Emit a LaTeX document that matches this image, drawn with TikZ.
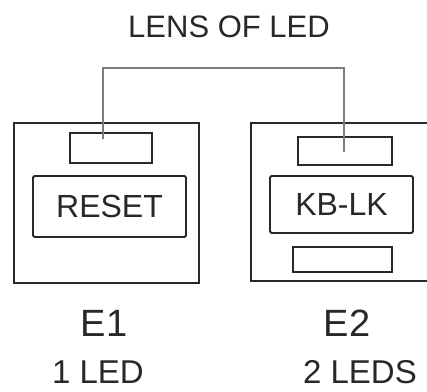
\documentclass[tikz,border=0pt]{standalone}
\usepackage{fontspec}
\setmainfont{Liberation Sans}
\usetikzlibrary{positioning}
\definecolor{PanelInk}{RGB}{40,40,40}
\definecolor{LeadGray}{RGB}{125,125,125}

\begin{document}
\begin{tikzpicture}[x=1pt,y=-1pt, every node/.style={inner sep=0pt, text=PanelInk}]
\tikzset{
  panel/.style={draw=PanelInk, line width=2pt},
  lens/.style={draw=PanelInk, line width=1.8pt},
  keycap/.style={draw=PanelInk, line width=1.8pt, rounded corners=1.5pt, font=\fontsize{32}{36}\selectfont},
  caption/.style={anchor=base, font=\fontsize{33}{38}\selectfont},
  unitname/.style={anchor=base, font=\fontsize{38}{44}\selectfont},
  lead/.style={draw=LeadGray, line width=1.6pt}
}
  \useasboundingbox (0,0) rectangle (427,391);
  \clip (0,0) rectangle (427,391);

  \node[anchor=base, font=\fontsize{31}{36}\selectfont] (title) at (229,37) {LENS OF LED};

  % E1 unit
  \node[panel, minimum width=185pt, minimum height=160pt] (panelA) at (106.5,203) {};
  \node[lens, minimum width=82pt, minimum height=30pt] (lensA) at (111,148) {};
  \node[keycap, minimum width=153pt, minimum height=61pt] (keyA) at (109.5,206.5) {RESET};

  % E2 unit
  \node[panel, minimum width=189pt, minimum height=158pt] (panelB) at (345.5,202) {};
  \node[lens, minimum width=94pt, minimum height=28pt] (lensB) at (345,151) {};
  \node[keycap, minimum width=143pt, minimum height=57pt] (keyB) at (341.5,204.5) {KB-LK};
  \node[lens, minimum width=99pt, minimum height=25pt] (lensC) at (342.5,259.5) {};

  \node[unitname] (nameA) at (104,336) {E1};
  \node[caption] (countA) at (98,383) {1 LED};
  \node[unitname] (nameB) at (347,336) {E2};
  \node[caption] (countB) at (360,383) {2 LEDS};

  \coordinate (tapA) at (103,139);
  \coordinate (tapB) at (344,152);
  \coordinate (ridge) at (0,68);
  \draw[lead] (tapA) -- (tapA |- ridge) -| (tapB);
\end{tikzpicture}
\end{document}
